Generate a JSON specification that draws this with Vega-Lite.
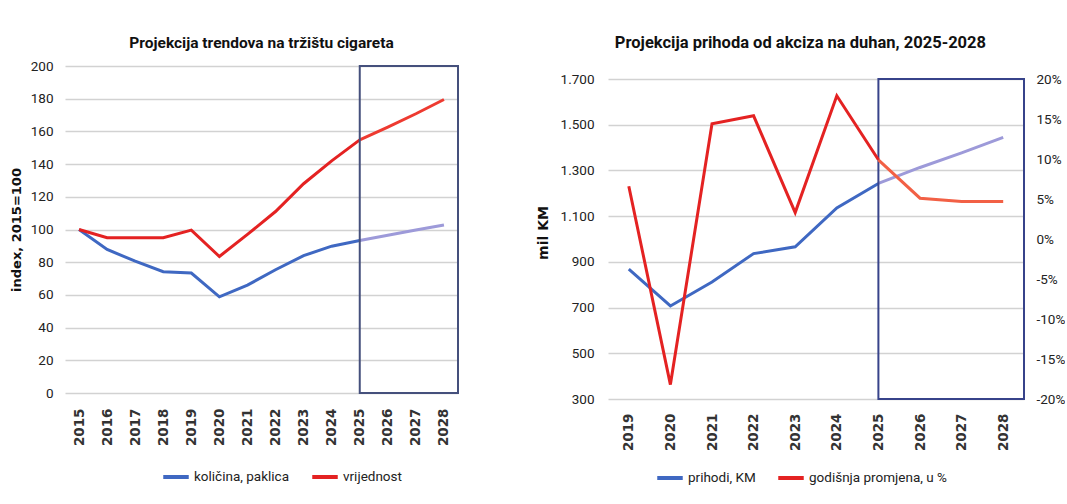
{
  "$schema": "https://vega.github.io/schema/vega-lite/v6.json",
  "background": "white",
  "padding": {"left": 10, "top": 34, "right": 0, "bottom": 0},
  "spacing": 77,
  "config": {
    "view": {"stroke": null},
    "font": "Roboto",
    "axis": {
      "labelFont": "Roboto",
      "labelFontSize": 13.5,
      "labelColor": "#222222",
      "gridColor": "#d2d2d2",
      "gridWidth": 1.5,
      "domain": false,
      "ticks": false,
      "labelFlush": false,
      "labelOverlap": false,
      "tickCount": 40
    },
    "legend": {
      "labelFont": "Roboto",
      "labelFontSize": 13.5,
      "labelColor": "#222222",
      "symbolType": "stroke",
      "symbolStrokeWidth": 4,
      "symbolSize": 650,
      "labelOffset": 3,
      "columnPadding": 14
    }
  },
  "resolve": {"scale": {"color": "independent"}, "legend": {"color": "independent"}},
  "hconcat": [
    {
      "width": 393,
      "height": 327,
      "title": {
        "text": "Projekcija trendova na tržištu cigareta",
        "font": "Roboto",
        "fontSize": 15.5,
        "fontWeight": "bold",
        "color": "#111111",
        "anchor": "middle",
        "offset": 8
      },
      "data": {
        "values": [
          {"year": 2015, "kolicina": 100, "vrijednost": 100},
          {"year": 2016, "kolicina": 87.8, "vrijednost": 95},
          {"year": 2017, "kolicina": 80.6, "vrijednost": 95},
          {"year": 2018, "kolicina": 74.2, "vrijednost": 95},
          {"year": 2019, "kolicina": 73.4, "vrijednost": 99.6},
          {"year": 2020, "kolicina": 58.8, "vrijednost": 83.5},
          {"year": 2021, "kolicina": 66, "vrijednost": 97},
          {"year": 2022, "kolicina": 75.4, "vrijednost": 111},
          {"year": 2023, "kolicina": 84, "vrijednost": 128},
          {"year": 2024, "kolicina": 89.8, "vrijednost": 142},
          {"year": 2025, "kolicina": 93.3, "vrijednost": 154.8},
          {"year": 2026, "kolicina": 96.5, "vrijednost": 162.6},
          {"year": 2027, "kolicina": 99.7, "vrijednost": 170.8},
          {"year": 2028, "kolicina": 102.8, "vrijednost": 179.5}
        ]
      },
      "layer": [
        {
          "transform": [{"filter": "datum.year <= 2025"}],
          "mark": {"type": "line", "strokeWidth": 3},
          "encoding": {
            "x": {
              "field": "year", "type": "quantitative",
              "scale": {"domain": [2014.5, 2028.5], "nice": false, "zero": false},
              "axis": {
                "values": [2015, 2016, 2017, 2018, 2019, 2020, 2021, 2022, 2023, 2024, 2025, 2026, 2027, 2028],
                "tickCount": 40,
                "format": "d", "labelAngle": -90, "title": null, "grid": false,
                "labelFont": "DejaVu Sans", "labelFontWeight": "bold", "labelFontSize": 13.5,
                "labelPadding": 15, "labelColor": "#333333"
              }
            },
            "y": {
              "field": "kolicina", "type": "quantitative",
              "scale": {"domain": [0, 200], "nice": false},
              "axis": {
                "values": [0, 20, 40, 60, 80, 100, 120, 140, 160, 180, 200],
                "tickCount": 40,
                "title": "index, 2015=100",
                "titleFont": "DejaVu Sans", "titleFontWeight": "bold", "titleFontSize": 13,
                "titleColor": "#111111", "titlePadding": 7, "labelPadding": 12
              }
            },
            "color": {
              "datum": "količina, paklica",
              "scale": {"domain": ["količina, paklica", "vrijednost"], "range": ["#3f68c2", "#e42222"]},
              "legend": {"title": null, "orient": "none", "direction": "horizontal", "legendX": 96, "legendY": 396}
            }
          }
        },
        {
          "transform": [{"filter": "datum.year <= 2025"}],
          "mark": {"type": "line", "strokeWidth": 3},
          "encoding": {
            "x": {"field": "year", "type": "quantitative"},
            "y": {"field": "vrijednost", "type": "quantitative"},
            "color": {"datum": "vrijednost"}
          }
        },
        {
          "transform": [{"filter": "datum.year >= 2025"}],
          "mark": {"type": "line", "strokeWidth": 3, "color": "#9d9ad9"},
          "encoding": {
            "x": {"field": "year", "type": "quantitative"},
            "y": {"field": "kolicina", "type": "quantitative"}
          }
        },
        {
          "transform": [{"filter": "datum.year >= 2025"}],
          "mark": {"type": "line", "strokeWidth": 3, "color": "#ee3a30"},
          "encoding": {
            "x": {"field": "year", "type": "quantitative"},
            "y": {"field": "vrijednost", "type": "quantitative"}
          }
        },
        {
          "data": {"values": [{"box": "projekcija"}]},
          "mark": {"type": "rect", "fill": null, "stroke": "#45507c", "strokeWidth": 2},
          "encoding": {
            "x": {"datum": 2025, "type": "quantitative"},
            "x2": {"datum": 2028.5},
            "y": {"datum": 0, "type": "quantitative"},
            "y2": {"datum": 200}
          }
        }
      ]
    },
    {
      "width": 416,
      "height": 333,
      "title": {
        "text": "Projekcija prihoda od akciza na duhan, 2025-2028",
        "font": "Roboto",
        "fontSize": 16.5,
        "fontWeight": "bold",
        "color": "#111111",
        "anchor": "middle",
        "frame": "bounds",
        "offset": 15
      },
      "data": {
        "values": [
          {"godina": 2019, "prihodi": 868, "promjena": 0.066},
          {"godina": 2020, "prihodi": 707, "promjena": -0.182},
          {"godina": 2021, "prihodi": 812, "promjena": 0.144},
          {"godina": 2022, "prihodi": 936, "promjena": 0.154},
          {"godina": 2023, "prihodi": 966, "promjena": 0.033},
          {"godina": 2024, "prihodi": 1136, "promjena": 0.179},
          {"godina": 2025, "prihodi": 1243, "promjena": 0.099},
          {"godina": 2026, "prihodi": 1313, "promjena": 0.051},
          {"godina": 2027, "prihodi": 1377, "promjena": 0.047},
          {"godina": 2028, "prihodi": 1445, "promjena": 0.047}
        ]
      },
      "layer": [
        {
          "layer": [
            {
              "transform": [{"filter": "datum.godina <= 2025"}],
              "mark": {"type": "line", "strokeWidth": 3},
              "encoding": {
                "x": {
                  "field": "godina", "type": "quantitative",
                  "scale": {"domain": [2018.5, 2028.5], "nice": false, "zero": false},
                  "axis": {
                    "values": [2019, 2020, 2021, 2022, 2023, 2024, 2025, 2026, 2027, 2028],
                    "tickCount": 40,
                    "format": "d", "labelAngle": -90, "title": null, "grid": false,
                    "labelFont": "DejaVu Sans", "labelFontWeight": "bold", "labelFontSize": 13.5,
                    "labelPadding": 14, "labelColor": "#333333"
                  }
                },
                "y": {
                  "field": "prihodi", "type": "quantitative",
                  "scale": {"domain": [300, 1756.9], "nice": false, "zero": false},
                  "axis": {
                    "values": [300, 500, 700, 900, 1100, 1300, 1500, 1700],
                    "tickCount": 40,
                    "labelExpr": "replace(format(datum.value, ','), ',', '.')",
                    "title": "mil KM",
                    "titleFont": "DejaVu Sans", "titleFontWeight": "bold", "titleFontSize": 14,
                    "titleColor": "#111111", "titlePadding": 10, "labelPadding": 14
                  }
                },
                "color": {
                  "datum": "prihodi, KM",
                  "scale": {"domain": ["prihodi, KM", "godišnja promjena, u %"], "range": ["#3f68c2", "#e42222"]},
                  "legend": {"title": null, "orient": "none", "direction": "horizontal", "legendX": 47, "legendY": 397}
                }
              }
            },
            {
              "transform": [{"filter": "datum.godina >= 2025"}],
              "mark": {"type": "line", "strokeWidth": 3, "color": "#9d9ad9"},
              "encoding": {
                "x": {"field": "godina", "type": "quantitative"},
                "y": {"field": "prihodi", "type": "quantitative"}
              }
            },
            {
              "data": {"values": [{"box": "projekcija"}]},
              "mark": {"type": "rect", "fill": null, "stroke": "#37438a", "strokeWidth": 2},
              "encoding": {
                "x": {"datum": 2025, "type": "quantitative"},
                "x2": {"datum": 2028.5},
                "y": {"datum": 300, "type": "quantitative"},
                "y2": {"datum": 1700}
              }
            }
          ]
        },
        {
          "layer": [
            {
              "transform": [{"filter": "datum.godina <= 2025"}],
              "mark": {"type": "line", "strokeWidth": 3},
              "encoding": {
                "x": {"field": "godina", "type": "quantitative"},
                "y": {
                  "field": "promjena", "type": "quantitative",
                  "scale": {"domain": [-0.2, 0.21625], "nice": false, "zero": false},
                  "axis": {
                    "orient": "right",
                    "values": [-0.2, -0.15, -0.1, -0.05, 0, 0.05, 0.1, 0.15, 0.2],
                    "tickCount": 40,
                    "labelExpr": "replace(format(datum.value, '.0%'), '−', '-')",
                    "grid": false, "title": null, "labelPadding": 12
                  }
                },
                "color": {"datum": "godišnja promjena, u %"}
              }
            },
            {
              "transform": [{"filter": "datum.godina >= 2025"}],
              "mark": {"type": "line", "strokeWidth": 3, "color": "#f26045"},
              "encoding": {
                "x": {"field": "godina", "type": "quantitative"},
                "y": {"field": "promjena", "type": "quantitative"}
              }
            }
          ]
        }
      ],
      "resolve": {"scale": {"y": "independent"}}
    }
  ]
}
